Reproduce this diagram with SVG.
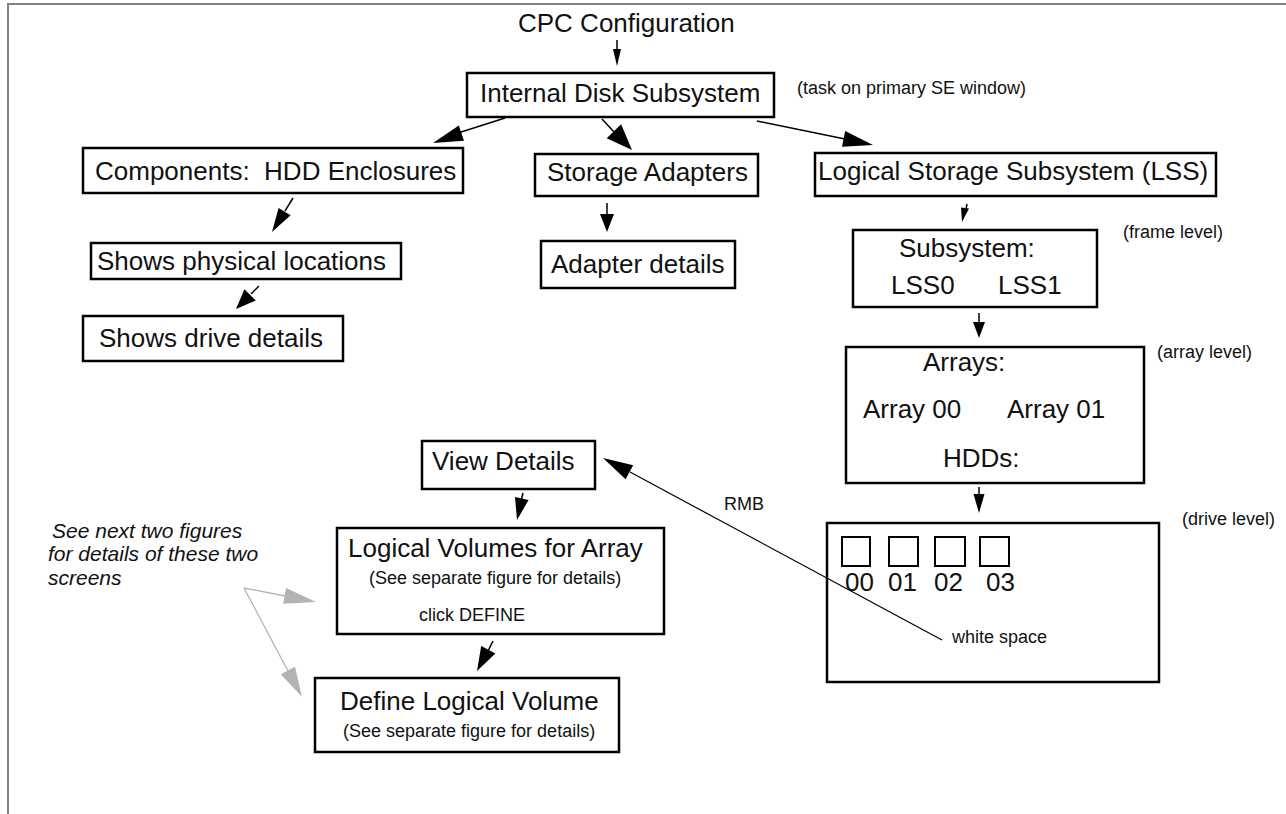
<svg xmlns="http://www.w3.org/2000/svg" width="1286" height="814" viewBox="0 0 1286 814">
  <style>
    text { font-family: "Liberation Sans", Arial, Helvetica, sans-serif; fill: #111; }
    .big { font-size: 26px; }
    .small { font-size: 18px; }
    .note { font-size: 21px; font-style: italic; }
    .box { fill: #fff; stroke: #000; stroke-width: 2.5; }
    .bay { fill: none; stroke: #000; stroke-width: 2; }
    .edge { fill: none; stroke: #000; stroke-width: 1.5; }
    .thin { fill: none; stroke: #000; stroke-width: 1.2; }
    .head { fill: #000; stroke: none; }
    .gedge { fill: none; stroke: #b3b3b3; stroke-width: 1.3; }
    .ghead { fill: #b3b3b3; stroke: none; }
    .frame { fill: none; stroke: #7f7f7f; stroke-width: 2; }
  </style>

  <!-- page frame -->
  <path class="frame" d="M8,814 V4 H1286"/>

  <!-- nodes -->
  <g id="cpc-configuration">
    <text class="big" x="518" y="32">CPC Configuration</text>
  </g>

  <g id="internal-disk-subsystem">
    <rect class="box" x="467" y="73" width="307" height="44"/>
    <text class="big" x="480" y="102">Internal Disk Subsystem</text>
  </g>
  <text class="small" x="797" y="94">(task on primary SE window)</text>

  <g id="components">
    <rect class="box" x="83" y="148" width="380" height="45"/>
    <text class="big" x="95" y="180">Components: &#160;HDD Enclosures</text>
  </g>

  <g id="storage-adapters">
    <rect class="box" x="535" y="154" width="223" height="42"/>
    <text class="big" x="547" y="181">Storage Adapters</text>
  </g>

  <g id="lss">
    <rect class="box" x="815" y="153" width="401" height="43"/>
    <text class="big" x="818" y="180">Logical Storage Subsystem (LSS)</text>
  </g>

  <g id="physical-locations">
    <rect class="box" x="91" y="243" width="310" height="36"/>
    <text class="big" x="97" y="270">Shows physical locations</text>
  </g>

  <g id="drive-details">
    <rect class="box" x="83" y="316" width="260" height="45"/>
    <text class="big" x="99" y="347">Shows drive details</text>
  </g>

  <g id="adapter-details">
    <rect class="box" x="541" y="241" width="194" height="47"/>
    <text class="big" x="551" y="273">Adapter details</text>
  </g>

  <g id="subsystem">
    <rect class="box" x="853" y="230" width="244" height="77"/>
    <text class="big" x="899" y="257">Subsystem:</text>
    <text class="big" x="891" y="294">LSS0</text>
    <text class="big" x="998" y="294">LSS1</text>
  </g>
  <text class="small" x="1123" y="238">(frame level)</text>

  <g id="arrays">
    <rect class="box" x="846" y="347" width="298" height="136"/>
    <text class="big" x="923" y="371">Arrays:</text>
    <text class="big" x="863" y="418">Array 00</text>
    <text class="big" x="1007" y="418">Array 01</text>
    <text class="big" x="943" y="467">HDDs:</text>
  </g>
  <text class="small" x="1157" y="358">(array level)</text>

  <g id="drives">
    <rect class="box" x="827" y="523" width="332" height="159"/>
    <rect class="bay" x="842" y="537" width="28" height="29"/>
    <rect class="bay" x="889" y="537" width="29" height="29"/>
    <rect class="bay" x="935" y="537" width="30" height="29"/>
    <rect class="bay" x="980" y="537" width="29" height="29"/>
    <text class="big" x="845" y="591">00</text>
    <text class="big" x="888" y="591">01</text>
    <text class="big" x="934" y="591">02</text>
    <text class="big" x="986" y="591">03</text>
    <text class="small" x="952" y="643">white space</text>
  </g>
  <text class="small" x="1182" y="525">(drive level)</text>
  <text class="small" x="724" y="510">RMB</text>

  <g id="view-details">
    <rect class="box" x="422" y="441" width="173" height="48"/>
    <text class="big" x="432" y="470">View Details</text>
  </g>

  <g id="logical-volumes">
    <rect class="box" x="337" y="528" width="327" height="106"/>
    <text class="big" x="348" y="557">Logical Volumes for Array</text>
    <text class="small" x="369" y="584">(See separate figure for details)</text>
    <text class="small" x="419" y="621">click DEFINE</text>
  </g>

  <g id="define-logical-volume">
    <rect class="box" x="315" y="678" width="304" height="74"/>
    <text class="big" x="340" y="710">Define Logical Volume</text>
    <text class="small" x="343" y="737">(See separate figure for details)</text>
  </g>

  <g id="note">
    <text class="note" x="52" y="538">See next two figures</text>
    <text class="note" x="48" y="561">for details of these two</text>
    <text class="note" x="48" y="585">screens</text>
  </g>

  <!-- connectors, drawn over the boxes -->
  <g id="connectors">
    <!-- CPC Configuration -> Internal Disk Subsystem -->
    <line class="edge" x1="617" y1="40" x2="617" y2="50"/>
    <polygon class="head" points="613,49 621,49 617,66"/>
    <!-- Internal Disk Subsystem -> Components -->
    <line class="edge" x1="505" y1="118" x2="458" y2="133"/>
    <polygon class="head" points="464,140.8 458.8,125.6 433,143"/>
    <!-- Internal Disk Subsystem -> Storage Adapters -->
    <line class="edge" x1="602" y1="119" x2="615" y2="133"/>
    <polygon class="head" points="606.7,138.2 621.1,124.3 632,150"/>
    <!-- Internal Disk Subsystem -> LSS -->
    <line class="edge" x1="757" y1="121" x2="845" y2="139"/>
    <polygon class="head" points="842,146.7 845.2,131.1 873,145"/>
    <!-- Components -> Shows physical locations -->
    <line class="edge" x1="293" y1="198" x2="285" y2="211"/>
    <polygon class="head" points="290.6,215.3 278.6,207.9 272,232"/>
    <!-- Shows physical locations -> Shows drive details -->
    <line class="edge" x1="259" y1="286" x2="251" y2="294"/>
    <polygon class="head" points="255.8,300.6 244.4,289.2 236,309"/>
    <!-- Storage Adapters -> Adapter details -->
    <line class="edge" x1="607" y1="203" x2="607" y2="215"/>
    <polygon class="head" points="600,214 614,214 607,232"/>
    <!-- LSS -> Subsystem -->
    <line class="edge" x1="967" y1="204" x2="966" y2="209"/>
    <polygon class="head" points="961,207.5 969,208.5 962,222"/>
    <!-- Subsystem -> Arrays -->
    <line class="edge" x1="979" y1="313" x2="979" y2="323"/>
    <polygon class="head" points="973,322 985,322 979,338"/>
    <!-- Arrays -> drive level -->
    <line class="edge" x1="979" y1="487" x2="979" y2="495"/>
    <polygon class="head" points="973.5,494 984.5,494 979,513"/>
    <!-- View Details -> Logical Volumes for Array -->
    <line class="edge" x1="523" y1="493" x2="521.5" y2="499"/>
    <polygon class="head" points="528.6,500 515,497 517,520"/>
    <!-- Logical Volumes for Array -> Define Logical Volume -->
    <line class="edge" x1="493" y1="641" x2="488.5" y2="650"/>
    <polygon class="head" points="495.4,653.6 481.2,646 477,671"/>
    <!-- RMB on white space -> View Details -->
    <line class="thin" x1="942" y1="640" x2="630" y2="472"/>
    <polygon class="head" points="633.2,465.2 625.6,479.2 603,458"/>
    <!-- note pointers -->
    <line class="gedge" x1="244" y1="588" x2="285" y2="596"/>
    <polygon class="ghead" points="283.1,603.8 286.1,588 316,602"/>
    <line class="gedge" x1="244" y1="588" x2="288" y2="671"/>
    <polygon class="ghead" points="280.8,674.3 295,666.7 302,697"/>
  </g>
</svg>
